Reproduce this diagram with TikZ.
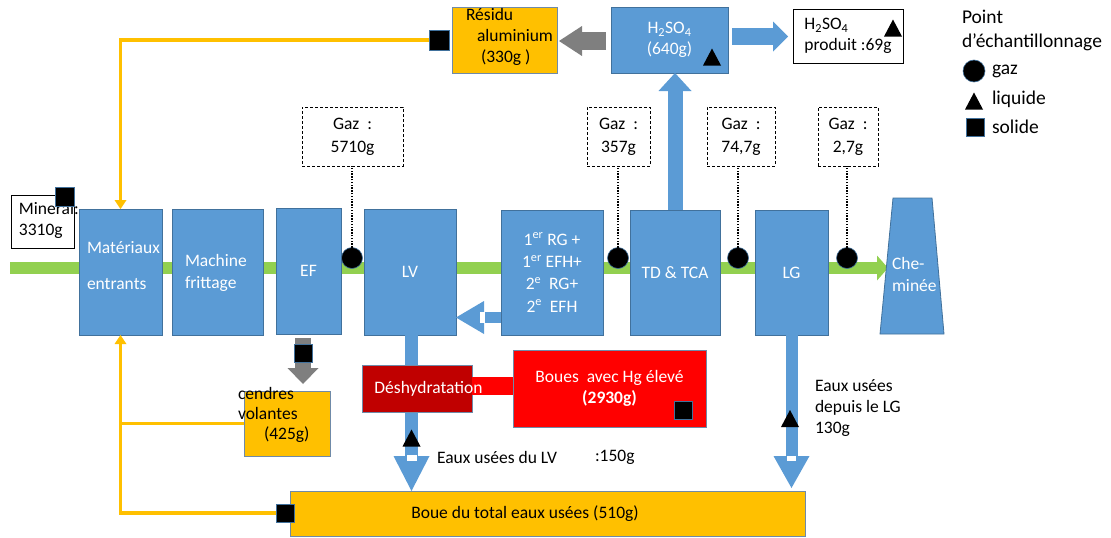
\documentclass[tikz,border=0pt]{standalone}
\usepackage{fontspec}
\setmainfont{Carlito}
\usetikzlibrary{arrows.meta,calc}
\definecolor{boxblue}{HTML}{5B9BD5}
\definecolor{bordblue}{HTML}{41719C}
\definecolor{flowgreen}{HTML}{92D050}
\definecolor{gold}{HTML}{FFC000}
\definecolor{grayar}{HTML}{7F7F7F}
\definecolor{redbox}{HTML}{FF0000}
\definecolor{darkred}{HTML}{C00000}
\definecolor{edgegray}{HTML}{6F8AA8}
\newcommand\fs{\fontsize{17.5}{21}\selectfont}
\begin{document}
\begin{tikzpicture}[x=1pt,y=-1pt,
  every node/.style={font=\fs, inner sep=0pt, outer sep=0pt},
  bluebox/.style={draw=bordblue, fill=boxblue, line width=0.8pt, text=white, align=center},
  goldbox/.style={draw=edgegray, fill=gold, line width=0.8pt},
  whitebox/.style={draw=black, fill=white, line width=0.8pt},
  gasbox/.style={draw=black, line width=0.8pt, dash pattern=on 3pt off 2pt, align=center, font=\fontsize{17.5}{23}\selectfont},
  redboxst/.style={draw=edgegray, fill=redbox, line width=0.8pt, text=white, align=center},
  wtext/.style={text=white},
  btext/.style={text=black},
  legtext/.style={text=black, anchor=west, font=\fontsize{19.5}{24}\selectfont},
  gasmark/.style={circle, fill=black, draw=bordblue, line width=0.6pt, minimum size=21pt},
  solmark/.style={rectangle, fill=black, draw=bordblue, line width=0.6pt, minimum size=18pt},
  dotline/.style={line width=1.6pt, dash pattern=on 1.4pt off 1.4pt},
  goldline/.style={draw=gold, line width=3.5pt},
  goldtip/.style={-{Triangle[width=12pt,length=9pt,line width=0pt]}},
  pics/liq/.style={code={\fill[black] (-9,8.5) -- (9,8.5) -- (0,-8.5) -- cycle;}}
]
\useasboundingbox (0,0) rectangle (1111,538);

% main gas flow
\coordinate (flowstart) at (10,268);
\coordinate (chemin) at (888,268);
\draw[line width=12pt, draw=flowgreen, -{Triangle[width=25pt,length=11pt,line width=0pt]}] (flowstart) -- (chemin);

% chimney
\filldraw[fill=boxblue, draw=bordblue, line width=0.8pt] (893,198) -- (932,198) -- (944,334) -- (880,334) -- cycle;
\node[wtext, align=left, anchor=west, font=\fontsize{17.5}{22}\selectfont] (chem) at (892,274) {Che-\\minée};

% process boxes
\node[bluebox, minimum width=83pt, minimum height=126pt] (mat) at (120.5,272) {};
\node[wtext, align=left, anchor=west, font=\fontsize{17.5}{36}\selectfont] (matt) at (87,266) {Matériaux\\entrants};
\node[bluebox, minimum width=91pt, minimum height=126pt] (mach) at (217.5,272) {};
\node[wtext, align=left, anchor=west, font=\fontsize{17.5}{22}\selectfont] (macht) at (185,273) {Machine\\frittage};
\node[bluebox, minimum width=65pt, minimum height=126pt] (ef) at (308.5,271) {EF};
\node[bluebox, minimum width=92pt, minimum height=126pt] (lv) at (410,272) {LV};
\node[bluebox, minimum width=102pt, minimum height=125pt, font=\fontsize{17.5}{22.3}\selectfont] (rg) at (552,272.5) {1\textsuperscript{er} RG +\\1\textsuperscript{er} EFH+\\2\textsuperscript{e}\ \ RG+\\2\textsuperscript{e}\ \ EFH};
\node[bluebox, minimum width=90pt, minimum height=125pt] (td) at (675,272.5) {TD \& TCA};
\node[bluebox, minimum width=73pt, minimum height=125pt] (lg) at (791.5,272.5) {LG};

% top boxes
\node[bluebox, minimum width=117pt, minimum height=66pt] (h2so4) at (669.5,40) {H\textsubscript{2}SO\textsubscript{4}\\(640g)};
\node[goldbox, minimum width=105pt, minimum height=66pt] (res) at (504.5,40) {};
\node[btext, align=left, anchor=north west] (rest) at (466,8) {Résidu\\\hspace*{11pt}aluminium\\\hspace*{15pt}(330g )};
\node[whitebox, minimum width=110pt, minimum height=54pt, align=left] (prod) at (848,36) {H\textsubscript{2}SO\textsubscript{4}\\produit :69g};

% bottom boxes
\node[goldbox, minimum width=515pt, minimum height=45pt] (boue) at (547.5,513.5) {};
\node[btext] (bouet) at (525,513.5) {Boue du total eaux usées (510g)};
\node[goldbox, minimum width=86pt, minimum height=65pt] (cend) at (287,423.5) {};
\node[btext, align=left, anchor=north west, font=\fontsize{17.5}{20}\selectfont] (cendt) at (238,387) {cendres\\volantes\\\hspace*{26pt}(425g)};

% block arrows
\draw[line width=15pt, draw=boxblue, -{Triangle[width=33pt,length=18pt,line width=0pt]}] (td.north) -- (td.north |- h2so4.south);
\draw[line width=17pt, draw=boxblue, -{Triangle[width=30pt,length=15pt,line width=0pt]}, shorten <=4pt, shorten >=5pt] ([yshift=3.5pt]h2so4.east) -- ([yshift=3.5pt]h2so4.east -| prod.west);
\draw[line width=18pt, draw=grayar, -{Triangle[width=30pt,length=23pt,line width=0pt]}, shorten <=5pt, shorten >=2pt] ([yshift=-1pt]h2so4.west) -- ([yshift=-1pt]h2so4.west -| res.east);
\draw[line width=11pt, draw=boxblue, -{Triangle[width=33pt,length=28pt,line width=0pt]}] ([yshift=-45pt]rg.west) -- ([yshift=-45pt]rg.west -| lv.east);
\fill[white] (480,312) rectangle (485,323);
\draw[line width=13pt, draw=boxblue, -{Triangle[width=36pt,length=35pt,line width=0pt]}] ([xshift=1.5pt]lv.south) -- ([xshift=1.5pt]lv.south |- boue.north);
\fill[white] (407,455) rectangle (416.5,461);
\draw[line width=12pt, draw=boxblue, -{Triangle[width=36pt,length=32pt,line width=0pt]}, shorten >=3pt] (lg.south) -- (lg.south |- boue.north);
\fill[white] (787,456) rectangle (796,461);
\draw[line width=16pt, draw=grayar, -{Triangle[width=31pt,length=16pt,line width=0pt]}, shorten <=4pt, shorten >=7pt] ([xshift=-5.5pt]ef.south) -- ([xshift=-5.5pt]ef.south |- cend.north);

% dewatering and sludge
\node[redboxst, minimum width=193pt, minimum height=77pt] (boues) at (609.5,388.5) {Boues\ \ avec Hg élevé\\\textbf{(2930g)}};
\node[draw=edgegray, fill=darkred, line width=0.8pt, minimum width=110pt, minimum height=47pt] (desh) at (417,388.5) {};
\draw[line width=18pt, draw=redbox] ([yshift=2.5pt]desh.east) -- ([yshift=2.5pt]desh.east -| boues.west);
\node[wtext] (desht) at (428.5,389) {Déshydratation};

% mineral input
\node[whitebox, minimum width=63pt, minimum height=53pt] (minb) at (42.5,221.5) {};
\node[btext, align=left, anchor=north west] (mint) at (19,202) {Mineral:\\3310g};

% gas boxes
\node[gasbox, minimum width=101pt, minimum height=59pt] (g1) at (352.5,136.5) {Gaz\ \ :\\5710g};
\node[gasbox, minimum width=63pt, minimum height=59pt] (g2) at (618.5,136.5) {Gaz\ \ :\\357g};
\node[gasbox, minimum width=68pt, minimum height=59pt] (g3) at (741,136.5) {Gaz\ \ :\\74,7g};
\node[gasbox, minimum width=60pt, minimum height=59pt] (g4) at (848,136.5) {Gaz\ \ :\\2,7g};

% gas sampling points
\node[gasmark] (c1) at (352,258) {};
\node[gasmark] (c2) at (618,258) {};
\node[gasmark] (c3) at (738,258) {};
\node[gasmark] (c4) at (847,258) {};
\draw[dotline] (c1.north) -- (g1.south -| c1.north);
\draw[dotline] (c2.north) -- (g2.south -| c2.north);
\draw[dotline] (c3.north) -- (g3.south -| c3.north);
\draw[dotline] (c4.north) -- (g4.south -| c4.north);

% recycle lines
\coordinate (sqrespos) at (439,40);
\coordinate (sqbouepos) at (285.5,513);
\draw[goldline, goldtip] (sqrespos) -| (mat.north);
\draw[goldline, goldtip] (sqbouepos) -| (mat.south);
\draw[goldline] (cend.west) -- (cend.west -| mat.south);

% solid sampling points
\node[solmark, minimum size=19pt] (sqmin) at (65,196.5) {};
\node[solmark, minimum size=20pt] (sqres) at (sqrespos) {};
\node[solmark] (sqef) at (303.5,353.5) {};
\node[solmark] (sqboues) at (683.5,410) {};
\node[solmark] (sqboue) at (sqbouepos) {};

% liquid sampling points
\pic at (712,57) {liq};
\pic at (893,28) {liq};
\pic at (411.5,438) {liq};
\pic at (790,418.5) {liq};

% free labels
\node[btext, anchor=west] (eaulv) at (437,457) {Eaux usées du LV};
\node[btext, anchor=west] (eaulv2) at (595,457) {:150g};
\node[btext, align=left, anchor=north west] (eaulg) at (815,380) {Eaux usées\\depuis le LG\\130g};

% legend
\node[legtext] (leg1) at (962,17) {Point};
\node[legtext] (leg2) at (962,42) {d’échantillonnage};
\node[gasmark, minimum size=22pt] (legc) at (974,71) {};
\node[legtext] (leg3) at (992,71) {gaz};
\pic at (974,101) {liq};
\node[legtext] (leg4) at (992,99) {liquide};
\node[solmark] (legs) at (975,127.5) {};
\node[legtext] (leg5) at (992,127) {solide};
\end{tikzpicture}
\end{document}
